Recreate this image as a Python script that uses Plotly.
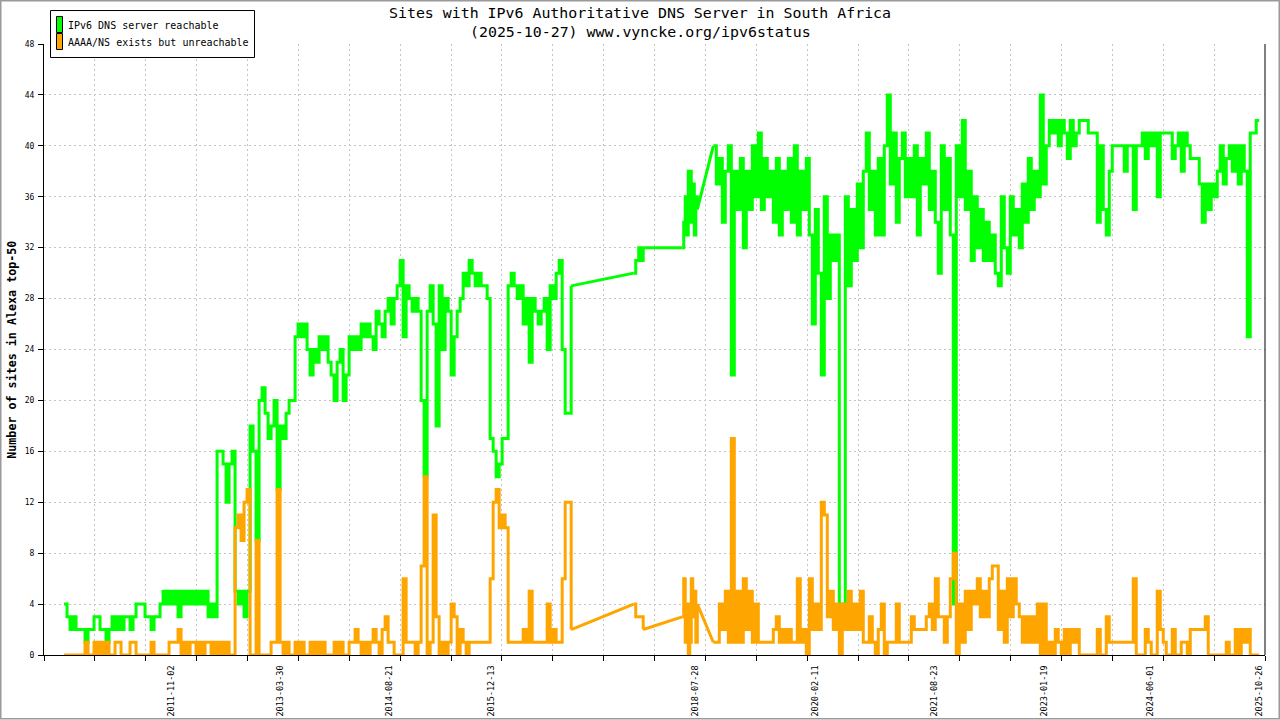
import pandas as pd
import plotly.graph_objects as go

# ---------------- data ----------------
# Era A: 2010-06-18 .. 2016-12-23, ~2-week sampling
era_a_start, era_a_end = "2010-06-18", "2016-12-23"
green_a = [4,3,2,3,2,2,2,1,2,2,
           3,3,2,2,1,2,3,2,3,2,
           3,3,2,3,4,4,4,3,3,2,
           3,3,4,5,4,5,4,5,3,5,
           4,5,4,5,4,5,4,5,3,4,
           3,16,16,15,12,15,16,5,4,5,
           3,5,18,16,9,20,21,19,17,18,
           20,13,18,17,19,20,20,25,26,25,
           26,24,22,24,23,25,24,25,23,22,
           20,23,24,20,22,25,24,25,24,26,
           25,26,25,24,27,26,25,27,28,26,
           28,29,31,25,29,28,27,28,27,20,
           14,27,29,26,18,29,24,28,27,22,
           25,27,28,30,29,31,30,29,30,29,
           29,28,17,16,14,15,17,17,29,30,
           29,28,29,26,28,23,28,27,26,27,
           28,24,29,28,30,31,24,19,19,29]
orange_a = [0,0,0,0,0,0,0,1,0,0,
            1,0,1,0,1,0,0,1,1,0,
            0,0,1,1,0,0,0,0,0,1,
            0,0,0,0,0,1,1,1,2,0,
            1,0,1,1,0,1,0,1,1,0,
            1,0,1,0,1,0,0,10,11,9,
            12,13,0,0,9,0,0,0,0,1,
            1,13,1,0,1,0,0,1,0,1,
            0,0,1,0,1,0,1,0,0,0,
            1,0,1,0,0,1,1,2,1,0,
            1,0,1,2,1,0,2,3,1,1,
            0,0,0,6,1,1,1,0,1,7,
            14,0,1,11,3,0,1,0,1,4,
            3,0,2,1,0,1,1,1,1,1,
            1,1,6,12,13,10,11,10,1,1,
            1,1,1,2,1,5,1,1,1,1,
            1,4,1,2,1,1,6,12,12,2]

# Era B: a few samples in late 2017
dates_b = ["2017-10-12", "2017-10-22", "2017-11-05", "2017-11-19", "2017-11-26"]
green_b = [30, 31, 32, 31, 32]
orange_b = [4, 3, 3, 3, 2]

# Era C: summer 2018
era_c_start, era_c_end = "2018-05-28", "2018-08-07"
green_c = [32,34,36,33,38,38,34,37,33,36,35]
orange_c = [3,6,1,4,0,1,6,3,5,1,4]

# Era D: 2018-10-21 .. 2025-10-26, ~2-week sampling
era_d_start, era_d_end = "2018-10-21", "2025-10-26"
green_d = [40,37,39,34,38,40,22,38,35,39,
           32,38,35,40,36,41,35,39,36,38,
           34,39,33,38,35,39,34,40,33,38,
           35,39,33,26,35,30,22,36,28,33,
           31,33,4,4,36,29,35,31,37,32,
           38,41,35,38,33,39,33,40,44,37,
           41,34,39,41,36,39,36,40,33,39,
           37,41,35,38,34,30,40,35,39,33,
           4,40,36,42,35,38,31,36,32,35,
           31,34,31,33,30,29,36,32,30,36,
           33,35,32,37,34,39,35,38,36,44,
           37,40,42,41,42,40,42,41,39,42,
           40,41,42,42,42,41,41,41,34,40,
           35,33,38,40,40,40,40,38,40,40,
           35,40,40,41,39,41,40,41,36,41,
           41,41,41,39,40,41,38,41,40,39,
           39,39,37,34,37,35,37,36,38,40,
           37,39,40,38,40,37,40,38,25,41,
           41,42,42]
orange_d = [1,1,4,2,5,1,17,1,5,1,
            6,2,5,1,4,1,1,1,1,1,
            2,3,1,2,1,2,1,1,6,1,
            2,0,6,2,4,2,12,11,3,5,
            2,4,0,4,2,5,2,4,2,5,
            1,1,3,1,0,2,4,0,1,1,
            1,4,1,1,1,1,3,2,2,2,
            2,3,4,2,6,3,3,1,3,6,
            8,0,4,1,5,2,5,4,6,3,
            5,3,6,7,7,2,5,1,6,3,
            6,4,3,1,3,1,3,1,4,0,
            4,0,1,0,2,1,0,2,0,2,
            1,2,0,0,0,0,0,0,2,0,
            0,3,1,1,1,1,1,1,1,1,
            6,0,0,0,2,1,0,0,5,2,
            1,0,0,2,0,0,1,1,0,2,
            2,2,2,2,3,0,0,0,0,0,
            0,1,0,0,2,0,2,1,2,0,
            0,0,0]

tick_dates = ["2011-11-02", "2013-03-30", "2014-08-21", "2015-12-13", "2018-07-28",
              "2020-02-11", "2021-08-23", "2023-01-19", "2024-06-01", "2025-10-26"]
y_ticks = list(range(0, 49, 4))

series_names = ["IPv6 DNS server reachable", "AAAA/NS exists but unreachable"]
series_colors = ["#00ff00", "#ffa500"]

# ---------------- assemble ----------------
era_dates = [
    list(pd.date_range(era_a_start, era_a_end, periods=len(green_a))),
    list(pd.to_datetime(dates_b)),
    list(pd.date_range(era_c_start, era_c_end, periods=len(green_c))),
    list(pd.date_range(era_d_start, era_d_end, periods=len(green_d))),
]
era_green = [green_a, green_b, green_c, green_d]
era_orange = [orange_a, orange_b, orange_c, orange_d]


def stepped(eras_x, eras_y):
    xs, ys = [], []
    for ex, ey in zip(eras_x, eras_y):
        xs += ex + [None]
        ys += ey + [None]
    return xs, ys


def gaps(eras_x, eras_y):
    # straight connections across periods without samples
    xs, ys = [], []
    for i in range(len(eras_x) - 1):
        xs += [eras_x[i][-1], eras_x[i + 1][0], None]
        ys += [eras_y[i][-1], eras_y[i + 1][0], None]
    return xs, ys


x_range = ["2010-03-16", "2025-11-22"]
r0, r1 = pd.Timestamp(x_range[0]), pd.Timestamp(x_range[1])
grid_vals = [r0 + (r1 - r0) * i / 24 for i in range(25)]

MONO = "DejaVu Sans Mono"

fig = go.Figure()
for ey, col, name in [(era_green, series_colors[0], series_names[0]),
                      (era_orange, series_colors[1], series_names[1])]:
    sx, sy = stepped(era_dates, ey)
    gx, gy = gaps(era_dates, ey)
    fig.add_trace(go.Scatter(x=sx, y=sy, mode="lines", name=name, line_shape="hv",
                             line=dict(color=col, width=3), showlegend=False,
                             connectgaps=False))
    fig.add_trace(go.Scatter(x=gx, y=gy, mode="lines", name=name,
                             line=dict(color=col, width=3), showlegend=False,
                             connectgaps=False))

W, H = 1280, 720
L, R, T, B = 44, 15, 44, 64.5
pw, ph = W - L - R, H - T - B


def px(xp):
    return (xp - L) / pw


def py(yp):
    return (H - B - yp) / ph


fig.update_layout(
    width=W, height=H,
    margin=dict(l=L, r=R, t=T, b=B, autoexpand=False),
    paper_bgcolor="white", plot_bgcolor="white",
    font=dict(family=MONO, color="black"),
    xaxis=dict(
        type="date", range=x_range,
        tickmode="array", tickvals=tick_dates, ticktext=tick_dates,
        tickangle=-90, ticks="", showgrid=False, ticklabelstandoff=6,
        tickfont=dict(family=MONO, size=8.5, color="black"),
        showline=True, linecolor="black", linewidth=1, zeroline=False,
        minor=dict(tickmode="array", tickvals=grid_vals, ticks="outside", ticklen=5,
                   tickcolor="black", showgrid=True, gridcolor="#c4c4c4",
                   griddash="2px,3px", gridwidth=1),
    ),
    yaxis=dict(
        range=[0, 48], tickmode="array", tickvals=y_ticks,
        ticks="outside", ticklen=5, tickcolor="black",
        tickfont=dict(family=MONO, size=8, color="black"),
        showgrid=True, gridcolor="#c4c4c4", griddash="2px,3px", gridwidth=1,
        showline=True, linecolor="black", linewidth=1, zeroline=False,
        ticklabelstandoff=2,
    ),
    showlegend=False,
)

shapes = [
    dict(type="line", xref="paper", yref="paper", x0=1, x1=1, y0=0, y1=1,
         line=dict(color="black", width=1)),
    dict(type="rect", xref="paper", yref="paper", x0=px(0.75), x1=px(1279.25),
         y0=py(719.25), y1=py(0.75), line=dict(color="#9a9a9a", width=1.5)),
    dict(type="rect", xref="paper", yref="paper", x0=px(50.5), x1=px(254.5),
         y0=py(57.5), y1=py(10.5), line=dict(color="black", width=1),
         fillcolor="white", layer="above"),
    dict(type="rect", xref="paper", yref="paper", x0=px(56.5), x1=px(62.5),
         y0=py(32.5), y1=py(16.5), line=dict(color="black", width=1),
         fillcolor=series_colors[0], layer="above"),
    dict(type="rect", xref="paper", yref="paper", x0=px(56.5), x1=px(62.5),
         y0=py(49.5), y1=py(33.5), line=dict(color="black", width=1),
         fillcolor=series_colors[1], layer="above"),
]

annotations = [
    dict(text="Sites with IPv6 Authoritative DNS Server in South Africa",
         xref="paper", yref="paper", x=px(640), y=py(13), xanchor="center", yanchor="middle",
         showarrow=False, font=dict(family=MONO, size=14.9, color="black")),
    dict(text="(2025-10-27) www.vyncke.org/ipv6status",
         xref="paper", yref="paper", x=px(640), y=py(32), xanchor="center", yanchor="middle",
         showarrow=False, font=dict(family=MONO, size=14.9, color="black")),
    dict(text="<b>Number of sites in Alexa top-50</b>",
         xref="paper", yref="paper", x=px(12), y=py(350), xanchor="center", yanchor="middle",
         textangle=-90, showarrow=False, font=dict(family=MONO, size=11.7, color="black")),
    dict(text=series_names[0], xref="paper", yref="paper", x=px(66), y=py(25.5),
         xanchor="left", yanchor="middle", showarrow=False,
         font=dict(family=MONO, size=10, color="black")),
    dict(text=series_names[1], xref="paper", yref="paper", x=px(66), y=py(42.5),
         xanchor="left", yanchor="middle", showarrow=False,
         font=dict(family=MONO, size=10, color="black")),
]

fig.update_layout(shapes=shapes, annotations=annotations)
fig.write_html("out.html", config={"displayModeBar": False},
               post_script="document.body.style.margin='0px';document.body.style.overflow='hidden';")
